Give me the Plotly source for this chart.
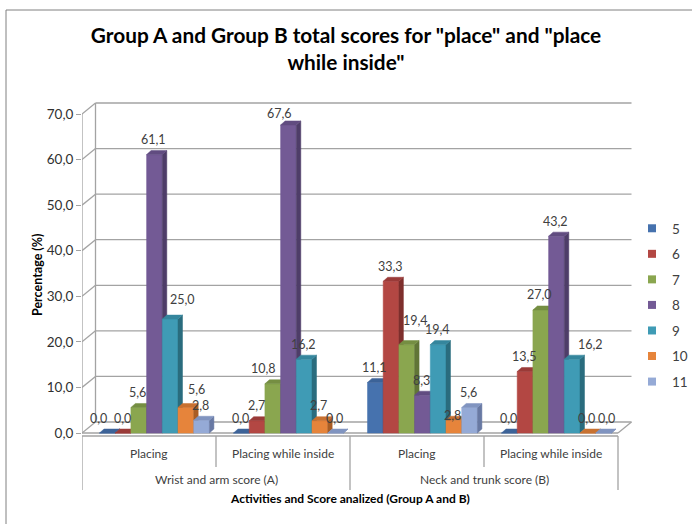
import plotly.graph_objects as go

# ---- data -------------------------------------------------------------
activities = ["Placing", "Placing while inside", "Placing", "Placing while inside"]
score_groups = ["Wrist and arm score (A)", "Neck and trunk score (B)"]
score_names = ["5", "6", "7", "8", "9", "10", "11"]

score_5 = [0.0, 0.0, 11.1, 0.0]
score_6 = [0.0, 2.7, 33.3, 13.5]
score_7 = [5.6, 10.8, 19.4, 27.0]
score_8 = [61.1, 67.6, 8.3, 43.2]
score_9 = [25.0, 16.2, 19.4, 16.2]
score_10 = [5.6, 2.7, 2.8, 0.0]
score_11 = [2.8, 0.0, 5.6, 0.0]

y_ticks = [0, 10, 20, 30, 40, 50, 60, 70]

series_values = [score_5, score_6, score_7, score_8, score_9, score_10, score_11]

# ---- styling ----------------------------------------------------------
front_colors = ["#4672AE", "#B34743", "#8AA64F", "#735A95", "#3F9BB5", "#E6843B", "#95AAD6"]
side_colors = ["#2E5282", "#7E2F2D", "#617537", "#4E3D68", "#2A6C7E", "#A95D24", "#6879A3"]
top_colors = ["#3C6398", "#9A3B38", "#758E42", "#614C80", "#35869D", "#C87130", "#8094C0"]

W, H = 692, 524
PL, PR, PT, PB = 82, 690, 100, 440          # plot-area pixel box (legend sits inside)
CAT_PX = 134.0                              # pixels per category
Y0_PX, Y70_PX = 433.0, 114.0
PX_PER_Y = (Y0_PX - Y70_PX) / 70.0

x_range = [-0.5, -0.5 + (PR - PL) / CAT_PX]
y_range = [(Y0_PX - PB) / PX_PER_Y, (Y0_PX - PT) / PX_PER_Y]

BAR_W = 15.7 / CAT_PX          # bar width (x units)
GROUP_PAD = 17.5 / CAT_PX      # gap from category edge to first bar
BAR_DX = 4.5 / CAT_PX          # bar depth (oblique)
BAR_DY = 4.0 / PX_PER_Y
WALL_DX = 13.5 / CAT_PX        # wall / floor depth
WALL_DY = 11.0 / PX_PER_Y

GRID = "#A3A3A3"
TEXT = "#404040"
FONT = "Lato"


def paper_x(px):
    return (px - PL) / (PR - PL)


def paper_y(py):
    return (PB - py) / (PB - PT)


def fmt(v):
    return f"{v:.1f}".replace(".", ",")


fig = go.Figure()

# pseudo-3D columns: front, side and top faces, drawn series by series
for k, (name, vals) in enumerate(zip(score_names, series_values)):
    fx, fy, sx, sy, tx, ty = [], [], [], [], [], []
    for c, v in enumerate(vals):
        x0 = c - 0.5 + GROUP_PAD + k * BAR_W
        x1 = x0 + BAR_W
        fx += [x0, x1, x1, x0, x0, None]
        fy += [0, 0, v, v, 0, None]
        sx += [x1, x1 + BAR_DX, x1 + BAR_DX, x1, x1, None]
        sy += [0, BAR_DY, v + BAR_DY, v, 0, None]
        tx += [x0, x1, x1 + BAR_DX, x0 + BAR_DX, x0, None]
        ty += [v, v, v + BAR_DY, v + BAR_DY, v, None]
    fig.add_trace(go.Scatter(x=fx, y=fy, mode="lines", fill="toself",
                             fillcolor=front_colors[k],
                             line=dict(color=front_colors[k], width=0.5),
                             showlegend=False, hoverinfo="skip"))
    fig.add_trace(go.Scatter(x=sx, y=sy, mode="lines", fill="toself",
                             fillcolor=side_colors[k],
                             line=dict(color=side_colors[k], width=0.5),
                             showlegend=False, hoverinfo="skip"))
    fig.add_trace(go.Scatter(x=tx, y=ty, mode="lines", fill="toself",
                             fillcolor=top_colors[k],
                             line=dict(color=top_colors[k], width=0.5),
                             showlegend=False, hoverinfo="skip"))

# legend entries
for k, name in enumerate(score_names):
    fig.add_trace(go.Scatter(x=[None], y=[None], mode="markers", name=name,
                             legendgroup=name,
                             marker=dict(symbol="square", size=8,
                                         color=front_colors[k])))

# value labels (a few nudged apart where they would collide)
label_nudge = {(0, 0): (-8, 0), (0, 4): (13, 5), (0, 5): (12, 3),
               (1, 2): (-8, 0), (1, 3): (-8, -4),
               (2, 2): (10, 9), (2, 5): (0, -10),
               (3, 4): (19, 0), (3, 6): (4, 0)}
annotations = []
for k, vals in enumerate(series_values):
    for c, v in enumerate(vals):
        x0 = c - 0.5 + GROUP_PAD + k * BAR_W
        dx, dy = label_nudge.get((c, k), (0, 0))
        annotations.append(dict(x=x0 + BAR_W / 2, y=v, xref="x", yref="y",
                                text=fmt(v), showarrow=False,
                                xanchor="center", yanchor="middle",
                                xshift=dx - 1, yshift=15 + dy,
                                font=dict(family=FONT, size=12.5, color=TEXT)))

# category and group labels under the floor
for c, label in enumerate(activities):
    annotations.append(dict(x=c, y=paper_y(453), xref="x", yref="paper",
                            xanchor="center", yanchor="middle",
                            text=label, showarrow=False,
                            font=dict(family=FONT, size=12, color=TEXT)))
for g, label in enumerate(score_groups):
    annotations.append(dict(x=2 * g + 0.5, y=paper_y(479), xref="x", yref="paper",
                            xanchor="center", yanchor="middle",
                            text=label, showarrow=False,
                            font=dict(family=FONT, size=12, color=TEXT)))

annotations.append(dict(x=1.5, y=paper_y(498), xref="x", yref="paper",
                        xanchor="center", yanchor="middle",
                        text="<b>Activities and Score analized (Group A and B)</b>",
                        showarrow=False,
                        font=dict(family=FONT, size=12, color="#000000")))
annotations.append(dict(x=paper_x(37), y=paper_y(275), xref="paper", yref="paper",
                        xanchor="center", yanchor="middle",
                        text="<b>Percentage (%)</b>", textangle=-90,
                        showarrow=False,
                        font=dict(family=FONT, size=12.5, color="#000000")))

# back wall, floor and axis lines
shapes = []
for t in y_ticks:
    shapes.append(dict(type="line", xref="x", yref="y", x0=-0.5, y0=t,
                       x1=-0.5 + WALL_DX, y1=t + WALL_DY,
                       line=dict(color=GRID, width=1.3), layer="below"))
    shapes.append(dict(type="line", xref="x", yref="y", x0=-0.5 + WALL_DX,
                       y0=t + WALL_DY, x1=3.5 + WALL_DX, y1=t + WALL_DY,
                       line=dict(color=GRID, width=1.3), layer="below"))
shapes.append(dict(type="line", xref="x", yref="y", x0=-0.5 + WALL_DX, y0=WALL_DY,
                   x1=-0.5 + WALL_DX, y1=y_ticks[-1] + WALL_DY,
                   line=dict(color=GRID, width=1.3), layer="below"))
shapes.append(dict(type="line", xref="x", yref="y", x0=-0.5, y0=0,
                   x1=-0.5, y1=y_ticks[-1],
                   line=dict(color=GRID, width=1.3), layer="below"))
shapes.append(dict(type="line", xref="x", yref="y", x0=-0.5, y0=0, x1=3.5, y1=0,
                   line=dict(color=GRID, width=1.3), layer="below"))
shapes.append(dict(type="line", xref="x", yref="y", x0=3.5, y0=0,
                   x1=3.5 + WALL_DX, y1=WALL_DY,
                   line=dict(color=GRID, width=1.3), layer="below"))

# category table lines
shapes.append(dict(type="line", xref="x", yref="paper", x0=-0.5, x1=3.5,
                   y0=paper_y(436), y1=paper_y(436),
                   line=dict(color=GRID, width=1.3)))
for b in [-0.5, 0.5, 1.5, 2.5, 3.5]:
    bottom = 490 if b in (-0.5, 1.5, 3.5) else 467
    shapes.append(dict(type="line", xref="x", yref="paper", x0=b, x1=b,
                       y0=paper_y(436), y1=paper_y(bottom),
                       line=dict(color=GRID, width=1.3)))

# outer chart frame
shapes.append(dict(type="rect", xref="paper", yref="paper",
                   x0=paper_x(6), x1=paper_x(720), y0=paper_y(10), y1=paper_y(540),
                   line=dict(color="#808080", width=1), fillcolor="rgba(0,0,0,0)"))

fig.update_layout(
    width=W, height=H,
    margin=dict(l=PL, r=W - PR, t=PT, b=H - PB, pad=0, autoexpand=False),
    paper_bgcolor="white", plot_bgcolor="white",
    separators=",.",
    title=dict(text="Group A and Group B total scores for \"place\" and \"place<br>while inside\"",
               x=0.5, xanchor="center", xref="container",
               y=1 - 43 / H, yanchor="top", yref="container",
               font=dict(family=FONT, size=20.8, color="#000000", weight="bold")),
    xaxis=dict(range=x_range, showgrid=False, zeroline=False, showticklabels=False,
               ticks="", showline=False, fixedrange=True),
    yaxis=dict(range=y_range, tickvals=y_ticks, tickformat=".1f", showgrid=False,
               zeroline=False, showline=False, ticks="outside", ticklen=5,
               tickcolor=GRID, tickwidth=1.3,
               tickfont=dict(family=FONT, size=13.5, color="#303030")),
    legend=dict(x=paper_x(632), xanchor="left", y=paper_y(213), yanchor="top",
                traceorder="grouped", tracegroupgap=5,
                font=dict(family=FONT, size=13.5, color=TEXT),
                bgcolor="rgba(0,0,0,0)"),
    annotations=annotations,
    shapes=shapes,
)

fig.write_html("out.html")
